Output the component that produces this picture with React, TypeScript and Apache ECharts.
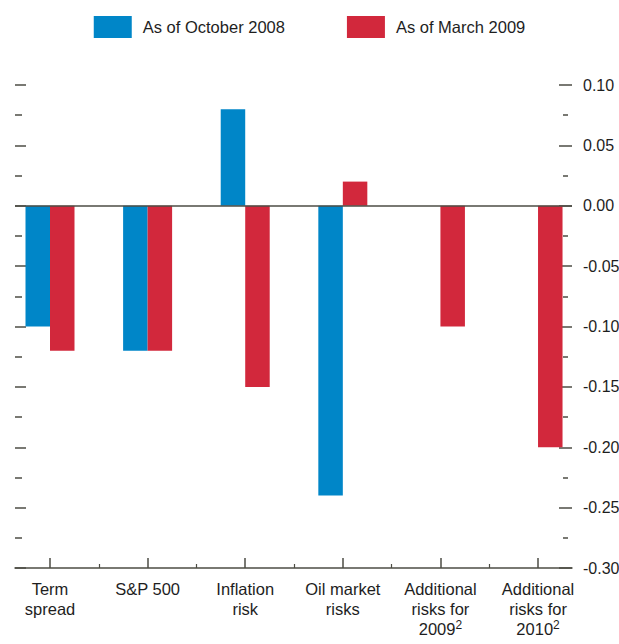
import React, { useEffect, useRef } from "react";
import * as echarts from "echarts";

const categories = [
  "Term\nspread",
  "S&P 500",
  "Inflation\nrisk",
  "Oil market\nrisks",
  "Additional\nrisks for\n2009{sup|2}",
  "Additional\nrisks for\n2010{sup|2}",
];
const seriesNames = ["As of October 2008", "As of March 2009"];
const oct2008: (number | null)[] = [-0.1, -0.12, 0.08, -0.24, null, null];
const mar2009: (number | null)[] = [-0.12, -0.12, -0.15, 0.02, -0.1, -0.2];
const yMin = -0.3;
const yMax = 0.1;
const yInterval = 0.05;

const FONT = "'Liberation Sans', Arial, sans-serif";
const AXIS_COLOR = "#4d4d44";
const TEXT_COLOR = "#1e1e1e";
const BLUE = "#0086c8";
const RED = "#d2283c";

export default function App() {
  const ref = useRef<HTMLDivElement>(null);
  useEffect(() => {
    if (!ref.current) return;
    const chart = echarts.init(ref.current, undefined, { renderer: "svg" });
    const n = categories.length;
    const centers = categories.map((_, i) => i);
    const mids = categories.slice(1).map((_, i) => i + 0.5);
    const xMin = -0.3586;
    const xMax = n - 1 + 0.348;
    const toPts = (arr: (number | null)[]) =>
      arr.map((v, i) => (v === null ? null : [i, v])).filter((d) => d !== null);
    const yCommon = {
      type: "value",
      min: yMin,
      max: yMax,
      interval: yInterval,
      splitLine: { show: false },
      axisLine: { show: false, onZero: false },
    };
    chart.setOption({
      animation: false,
      textStyle: { fontFamily: FONT },
      legend: {
        top: 11,
        left: "center",
        itemWidth: 38,
        itemHeight: 22,
        itemGap: 62,
        icon: "rect",
        textStyle: { fontSize: 16.5, color: TEXT_COLOR, fontFamily: FONT, padding: [0, 0, 0, 6] },
        data: seriesNames,
      },
      grid: { left: 15, right: 47, top: 85, bottom: 76, outerBoundsMode: "none" },
      xAxis: [
        {
          type: "value",
          min: xMin,
          max: xMax,
          splitLine: { show: false },
          axisLine: { show: true, onZero: false, lineStyle: { color: AXIS_COLOR, width: 1.5 } },
          axisTick: {
            show: true,
            inside: true,
            length: 10,
            customValues: centers,
            lineStyle: { color: AXIS_COLOR, width: 1.5 },
          },
          axisLabel: {
            show: true,
            customValues: centers,
            formatter: (v: number) => categories[Math.round(v)],
            margin: 11,
            fontSize: 16.5,
            lineHeight: 20,
            color: TEXT_COLOR,
            fontFamily: FONT,
            align: "center",
            rich: {
              sup: { fontSize: 12, verticalAlign: "top", lineHeight: 14, color: TEXT_COLOR, fontFamily: FONT },
            },
          },
        },
        {
          type: "value",
          min: xMin,
          max: xMax,
          position: "bottom",
          splitLine: { show: false },
          axisLine: { show: false, onZero: false },
          axisLabel: { show: false },
          axisTick: {
            show: true,
            inside: true,
            length: 4,
            customValues: mids,
            lineStyle: { color: AXIS_COLOR, width: 1.2 },
          },
        },
      ],
      yAxis: [
        {
          ...yCommon,
          position: "right",
          axisTick: { show: true, inside: true, length: 13, lineStyle: { color: AXIS_COLOR, width: 1.5 } },
          axisLabel: {
            show: true,
            margin: 11,
            fontSize: 16,
            color: TEXT_COLOR,
            fontFamily: FONT,
            formatter: (v: number) => v.toFixed(2),
          },
        },
        {
          ...yCommon,
          position: "right",
          offset: -4,
          axisTick: { show: false, inside: true },
          minorTick: { show: true, splitNumber: 2, length: 5, lineStyle: { color: AXIS_COLOR, width: 1.5 } },
          axisLabel: { show: false },
        },
        {
          ...yCommon,
          position: "left",
          axisTick: { show: true, inside: true, length: 11, lineStyle: { color: AXIS_COLOR, width: 1.5 } },
          minorTick: { show: true, splitNumber: 2, length: 7, lineStyle: { color: AXIS_COLOR, width: 1.5 } },
          axisLabel: { show: false },
        },
      ],
      series: [
        {
          name: seriesNames[0],
          type: "bar",
          xAxisIndex: 0,
          yAxisIndex: 0,
          barWidth: 24.5,
          barGap: "0%",
          itemStyle: { color: BLUE },
          data: toPts(oct2008),
          markLine: {
            silent: true,
            symbol: "none",
            label: { show: false },
            lineStyle: { color: AXIS_COLOR, width: 1.5, type: "solid" },
            data: [{ yAxis: 0 }],
          },
        },
        {
          name: seriesNames[1],
          type: "bar",
          xAxisIndex: 0,
          yAxisIndex: 0,
          barWidth: 24.5,
          barGap: "0%",
          itemStyle: { color: RED },
          data: toPts(mar2009),
        },
      ],
    });
    return () => chart.dispose();
  }, []);
  return <div ref={ref} style={{ width: 619, height: 644, position: "absolute", left: 0, top: 0 }} />;
}
